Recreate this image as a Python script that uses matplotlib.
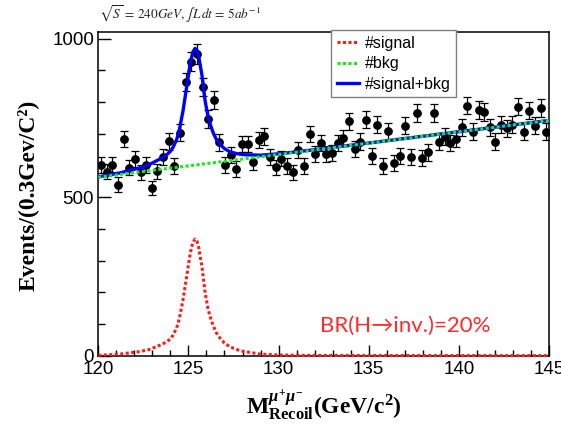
import numpy as np
import matplotlib
matplotlib.use("Agg")
import matplotlib.pyplot as plt
from matplotlib.ticker import MultipleLocator

# ---------------- data ----------------
bin_lo, bin_hi, n_bins = 120.0, 145.0, 80
counts = [601, 581, 603, 539, 684, 593, 620, 578, 602, 529,
          582, 627, 676, 599, 703, 863, 928, 952, 848, 747,
          808, 673, 602, 633, 589, 667, 667, 610, 680, 692,
          626, 594, 622, 599, 578, 649, 599, 699, 636, 671,
          636, 638, 671, 687, 739, 652, 675, 745, 631, 728,
          598, 708, 608, 631, 726, 628, 765, 623, 641, 765,
          675, 691, 671, 684, 720, 789, 707, 776, 768, 720,
          675, 728, 717, 728, 786, 707, 773, 726, 782, 707]

# fitted signal shape
sig_x = [120.0, 121.2, 122.3, 122.8, 123.2, 123.5, 123.8, 124.0, 124.15, 124.35,
         124.5, 124.7, 124.9, 125.1, 125.25, 125.37, 125.47, 125.56, 125.75,
         125.93, 126.1, 126.25, 126.4, 126.55, 126.76, 127.0, 127.3, 127.7,
         128.1, 129.0, 130.1, 132.0, 135.0, 140.0, 145.0]
sig_y = [1, 5, 13, 19, 28, 35, 44, 53, 65, 88,
         118, 176, 249, 323, 358, 368, 362, 344, 281,
         197, 144, 115, 91, 72, 55, 40, 28, 19,
         13, 5, 2, 1, 0.5, 0.3, 0.2]

# linear background (end points)
bkg_x = [120.0, 145.0]
bkg_y = [563, 742]

# ---------------- derived ----------------
edges = np.linspace(bin_lo, bin_hi, n_bins + 1)
centers = 0.5 * (edges[:-1] + edges[1:])
counts = np.array(counts, dtype=float)
errs = np.sqrt(counts)
sig_x = np.array(sig_x)
sig_y = np.array(sig_y, dtype=float)
tot_y = sig_y + np.interp(sig_x, bkg_x, bkg_y)

# ---------------- figure ----------------
plt.rcParams['mathtext.fontset'] = 'custom'
plt.rcParams['mathtext.rm'] = 'Liberation Serif:bold'
plt.rcParams['mathtext.bf'] = 'Liberation Serif:bold'
plt.rcParams['mathtext.it'] = 'Liberation Serif:bold:italic'

fig = plt.figure(figsize=(5.61, 4.24), dpi=100)
ax = fig.add_axes([0.1752, 0.1611, 0.8034, 0.7641])

ax.errorbar(centers, counts, yerr=errs, fmt='o', color='black', ms=5.3,
            elinewidth=0.9, capsize=3.2, capthick=0.9, zorder=2)

l_sig, = ax.plot(sig_x, sig_y, color='#ff1a1a', lw=2.2, ls=(0, (1, 0.8)),
                 zorder=3, label='#signal', clip_on=False)
l_bkg, = ax.plot(bkg_x, bkg_y, color='#11ee11', lw=2.2, ls=(0, (1, 0.8)),
                 zorder=4, label='#bkg')
l_tot, = ax.plot(sig_x, tot_y, color='#0000ff', lw=2.4, zorder=3,
                 label='#signal+bkg')

ax.set_xlim(120, 145)
ax.set_ylim(0, 1022)
ax.xaxis.set_major_locator(MultipleLocator(5))
ax.xaxis.set_minor_locator(MultipleLocator(1))
ax.yaxis.set_major_locator(MultipleLocator(500))
ax.yaxis.set_minor_locator(MultipleLocator(100))
ax.tick_params(which='both', direction='in', top=False, right=False,
               width=1.0, labelsize=13.5, labelfontfamily='Liberation Sans')
ax.tick_params(axis='y', which='major', length=9.5, pad=3)
ax.tick_params(axis='y', which='minor', length=5)
ax.tick_params(axis='x', which='major', length=8, pad=4)
ax.tick_params(axis='x', which='minor', length=4)
for s in ax.spines.values():
    s.set_linewidth(1.1)

fig.text(0.05, 0.54, 'Events/(0.3Gev/C²)', rotation=90, ha='center',
         va='center', family='Liberation Serif', weight='bold', fontsize=17)
fig.text(0.577, 0.045,
         r'$\mathbf{M}^{\mu^{+}\mu^{-}}_{\mathbf{Recoil}}$(GeV/c$^{2}$)',
         ha='center', va='center', family='Liberation Serif', weight='bold',
         fontsize=17)
fig.text(0.1765, 0.967,
         r'$\sqrt{S}\,=\,240GeV,\int L\,dt\,=\,5ab^{-1}$',
         ha='left', va='center', fontsize=9.5, color='#202020',
         math_fontfamily='stix')
ax.text(137.0, 94, 'BR(H→inv.)=20%', color='#ff2a2a', family='Lato',
        fontsize=16, ha='center', va='center')

leg = ax.legend(handles=[l_sig, l_bkg, l_tot], loc='upper left',
                bbox_to_anchor=(331 / 561, 1 - 30 / 424),
                bbox_transform=fig.transFigure, borderaxespad=0,
                prop={'family': 'Liberation Sans', 'size': 11.5},
                handlelength=1.4, handletextpad=0.35, labelspacing=0.35,
                borderpad=0.35, fancybox=False, framealpha=1,
                edgecolor='#808080')
leg.get_frame().set_linewidth(1.0)
leg.set_zorder(10)

fig.savefig('out.png', dpi=100)
